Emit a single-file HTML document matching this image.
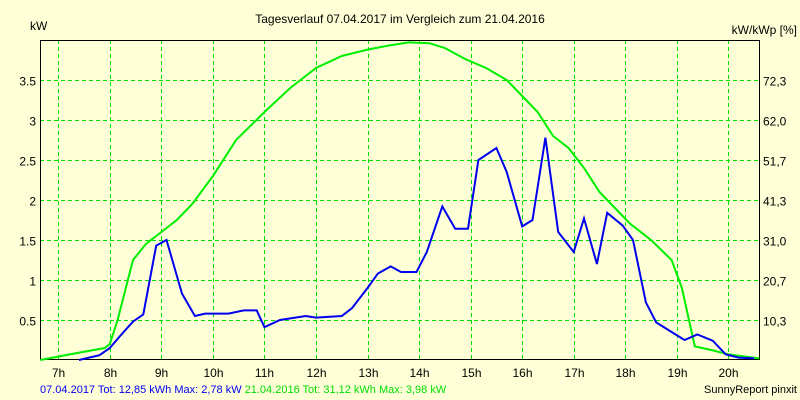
<!DOCTYPE html>
<html><head><meta charset="utf-8"><style>
body{margin:0;background:#ffffd7;}
svg{display:block;font-family:"Liberation Sans",sans-serif;}
</style></head><body>
<svg id="c" width="800" height="400">
<rect width="800" height="400" fill="#ffffd7"/>
</svg>
<script>
const hourTicks=[7,8,9,10,11,12,13,14,15,16,17,18,19,20];
const yTicks=[0.5,1,1.5,2,2.5,3,3.5];
const rightLabels=["10,3","20,7","31,0","41,3","51,7","62,0","72,3"];
const greenT=[6.65,7.3,7.9,8.0,8.15,8.45,8.7,9.0,9.3,9.6,10.0,10.45,11.0,11.5,12.0,12.5,13.0,13.4,13.8,14.2,14.5,14.9,15.3,15.7,16.0,16.3,16.6,16.9,17.2,17.5,17.8,18.1,18.5,18.9,19.1,19.35,19.7,20.0,20.6];
const greenV=[0,0.08,0.15,0.2,0.5,1.25,1.45,1.6,1.75,1.95,2.3,2.75,3.1,3.4,3.65,3.8,3.88,3.93,3.97,3.96,3.9,3.76,3.65,3.5,3.3,3.1,2.8,2.65,2.4,2.1,1.9,1.7,1.5,1.25,0.9,0.17,0.12,0.07,0.02];
const blueT=[7.4,7.8,8.0,8.2,8.45,8.65,8.9,9.1,9.4,9.65,9.85,10.3,10.6,10.85,11.0,11.3,11.8,12.0,12.5,12.7,13.0,13.2,13.45,13.65,13.95,14.15,14.45,14.7,14.95,15.15,15.5,15.7,16.0,16.2,16.45,16.7,17.0,17.2,17.45,17.65,17.95,18.15,18.4,18.6,18.9,19.15,19.4,19.7,19.95,20.2,20.5];
const blueV=[0,0.06,0.15,0.3,0.48,0.57,1.43,1.5,0.83,0.55,0.58,0.58,0.62,0.62,0.41,0.5,0.55,0.53,0.55,0.65,0.9,1.08,1.17,1.1,1.1,1.35,1.92,1.64,1.64,2.5,2.65,2.35,1.67,1.75,2.78,1.6,1.35,1.77,1.2,1.84,1.68,1.5,0.72,0.47,0.35,0.25,0.32,0.24,0.07,0.03,0.02];

const svg=document.getElementById('c');const NS='http://www.w3.org/2000/svg';
const L=40,R=759,T=40,B=359;
const xs=h=>58.3+(h-7)*51.54;
const ys=v=>360-v*80;
function mk(tag,attrs,name,txt){const e=document.createElementNS(NS,tag);for(const k in attrs)e.setAttribute(k,attrs[k]);


if(txt!==undefined)e.textContent=txt;svg.appendChild(e);return e;}
hourTicks.forEach(h=>{const x=Math.round(xs(h))+0.5;
mk('line',{x1:x,x2:x,y1:T,y2:B,stroke:'#00e000','stroke-dasharray':'4,3'},'x-grid-line');
mk('text',{x:x,y:377,'text-anchor':'middle','font-size':12,fill:'#000'},'x-tick-label',h+'h');});
yTicks.forEach((v,i)=>{const y=Math.round(ys(v))+0.5;
mk('line',{x1:L,x2:R,y1:y,y2:y,stroke:'#00e000','stroke-dasharray':'4,3'},'y-grid-line');
mk('text',{x:36,y:y+5,'text-anchor':'end','font-size':12,fill:'#000'},'y-tick-label',String(v));
mk('text',{x:763,y:y+5,'font-size':12,fill:'#000'},'right-tick-label',rightLabels[i]);});
mk('polyline',{points:`${L+0.5},${T} ${L+0.5},${B+0.5} ${R+0.5},${B+0.5} ${R+0.5},${T}`,fill:'none',stroke:'#000'},'plot-frame');
mk('line',{x1:L,x2:R+1,y1:T+0.5,y2:T+0.5,stroke:'#000'},'plot-top-border');
mk('polyline',{points:greenT.map((t,i)=>xs(t).toFixed(1)+','+ys(greenV[i]).toFixed(1)).join(' '),fill:'none',stroke:'#00ee00','stroke-width':2},'series-2016');
mk('polyline',{points:blueT.map((t,i)=>xs(t).toFixed(1)+','+ys(blueV[i]).toFixed(1)).join(' '),fill:'none',stroke:'#0000ee','stroke-width':2},'series-2017');
mk('text',{x:400,y:23,'text-anchor':'middle','font-size':12,fill:'#000'},'chart-title','Tagesverlauf 07.04.2017 im Vergleich zum 21.04.2016');
mk('text',{x:30,y:30,'font-size':12,fill:'#000'},'y-axis-title','kW');
mk('text',{x:797,y:34,'text-anchor':'end','font-size':12,fill:'#000'},'right-axis-title','kW/kWp [%]');
const f=mk('text',{x:40,y:393,'font-size':11},'footer-legend');
const s1=document.createElementNS(NS,'tspan');s1.setAttribute('fill','#0000ee');s1.textContent='07.04.2017 Tot: 12,85 kWh Max: 2,78 kW ';


f.appendChild(s1);
const s2=document.createElementNS(NS,'tspan');s2.setAttribute('fill','#00dd00');s2.textContent='21.04.2016 Tot: 31,12 kWh Max: 3,98 kW';


f.appendChild(s2);
mk('text',{x:797,y:393,'text-anchor':'end','font-size':11,fill:'#000'},'credit','SunnyReport pinxit');
</script>
</body></html>
